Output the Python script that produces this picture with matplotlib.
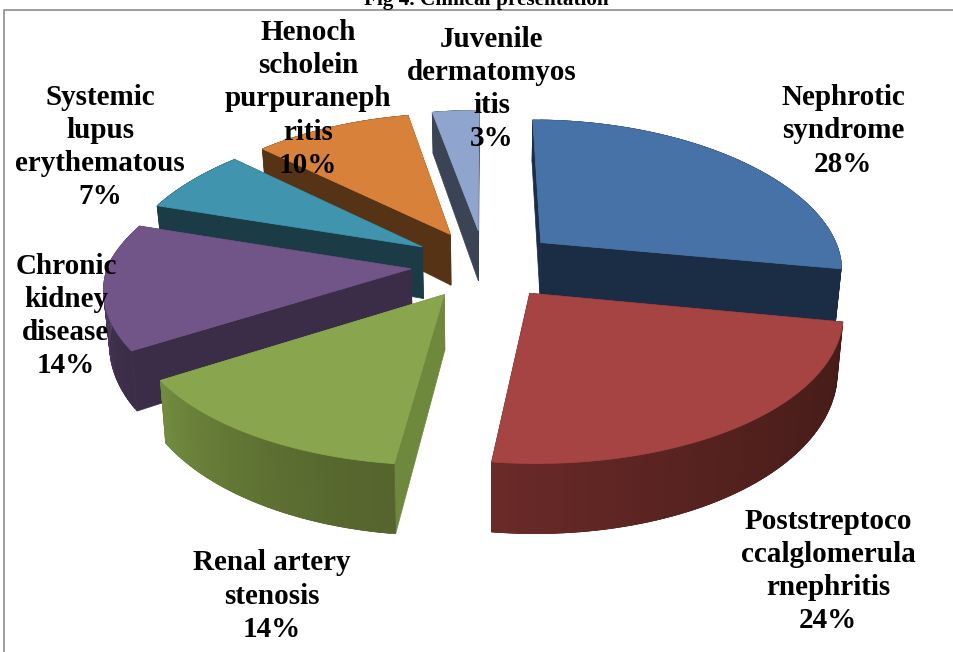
# exploded 3D pie of clinical presentation, drawn by hand since matplotlib has no perspective pie

import matplotlib
matplotlib.use('Agg')
import matplotlib.pyplot as plt
from matplotlib.colors import to_rgb
from matplotlib.patches import Polygon
import numpy as np

labels = ['Nephrotic\nsyndrome', 'Poststreptoco\nccalglomerula\nrnephritis',
          'Renal artery\nstenosis', 'Chronic\nkidney\ndisease',
          'Systemic\nlupus\nerythematous', 'Henoch\nscholein\npurpuraneph\nritis',
          'Juvenile\ndermatomyos\nitis']
percent = [28, 24, 14, 14, 7, 10, 3]

# top face, outer wall at start and end of the arc, flat cut wall
top_colors = ['#4672a7', '#a54442', '#89a64f', '#715589', '#4094ae', '#d8813a', '#8fa5cd']
arc_start = ['#1b2d44', '#461c19', '#55652d', '#3b2c47', '#1b3c47', '#573316', '#3b4455']
arc_end = ['#1b2d44', '#6a2a28', '#728c3f', '#654f82', '#1b3c47', '#573316', '#3b4455']
wall_colors = ['#1b2d44', '#461c19', '#6f893c', '#3b2c47', '#1b3c47', '#573316', '#3b4455']

label_xy = [(843, 131), (828, 571), (272, 596), (66, 316), (100, 147), (308, 99), (492, 89)]

# projection settings
CX, CY = 485, 264.4
RX, RY = 303, 142.3
PERSP = 0.12
PERSP_BACK_X = 0.17
DEPTH = 53
INSET = 0.016
EXPLODE = 0.245


def project(u, v, z=0.0):
    s = 1 / (1 - PERSP * v)
    # width shrinks a little faster towards the back of the pie
    sx = 1 / (1 - PERSP_BACK_X * v) if v < 0 else s
    return CX + RX * u * sx * (1 - INSET * z), CY + RY * v * s + DEPTH * z * s ** 1.8


def add_poly(ax, pts, color, z):
    ax.add_patch(Polygon(pts, closed=True, facecolor=color, edgecolor=color, linewidth=0.5, zorder=z))


fig = plt.figure(figsize=(9.54, 6.52), dpi=100)
ax = fig.add_axes([0, 0, 1, 1])
ax.set_xlim(0, 954)
ax.set_ylim(652, 0)
ax.axis('off')

# slice angles run clockwise from 12 o'clock
edges = np.radians(np.concatenate([[0], np.cumsum(percent)]) * 3.6)
mids = (edges[:-1] + edges[1:]) / 2

# painter's order: slices furthest from the viewer first
order = sorted(range(len(percent)), key=lambda k: -np.cos(mids[k]), reverse=False)

z = 2
for i in order:
    a0, a1 = edges[i], edges[i + 1]
    ou, ov = EXPLODE * np.sin(mids[i]), -EXPLODE * np.cos(mids[i])
    angles = np.linspace(a0, a1, 60)
    us = ou + np.sin(angles)
    vs = ov - np.cos(angles)

    # flat cut walls
    for a in (a0, a1):
        u, v = ou + np.sin(a), ov - np.cos(a)
        add_poly(ax, [project(ou, ov), project(u, v), project(u, v, 1), project(ou, ov, 1)], wall_colors[i], z)
    z += 1

    # outer wall in overlapping strips so the shade can change along the arc
    c0, c1 = np.array(to_rgb(arc_start[i])), np.array(to_rgb(arc_end[i]))
    for k in range(len(angles) - 1):
        t = (k / (len(angles) - 2)) ** 1.5
        e = min(k + 2, len(angles) - 1)
        add_poly(ax, [project(us[k], vs[k]), project(us[e], vs[e]),
                      project(us[e], vs[e], 1), project(us[k], vs[k], 1)], c0 + (c1 - c0) * t, z)
    z += 1

    # top face
    pts = [project(ou, ov)] + [project(us[k], vs[k]) for k in range(len(angles))]
    add_poly(ax, pts, top_colors[i], z)
    z += 1

font = {'family': 'Liberation Serif', 'weight': 'bold', 'color': 'black'}
for name, pct, (x, y) in zip(labels, percent, label_xy):
    ax.text(x, y, f'{name}\n{pct}%', ha='center', va='center', fontsize=21,
            linespacing=1.3, zorder=100, **font)

# caption is cut by the top edge of the figure
ax.text(486, 5.5, 'Fig 4. Clinical presentation', ha='center', va='baseline', fontsize=15.3, zorder=100, **font)

# grey frame along the top and left
ax.plot([954, 4.5, 4.5], [9.5, 9.5, 652], color='#8c8c8c', linewidth=1.2, zorder=1)

fig.savefig('out.png', dpi=100)
